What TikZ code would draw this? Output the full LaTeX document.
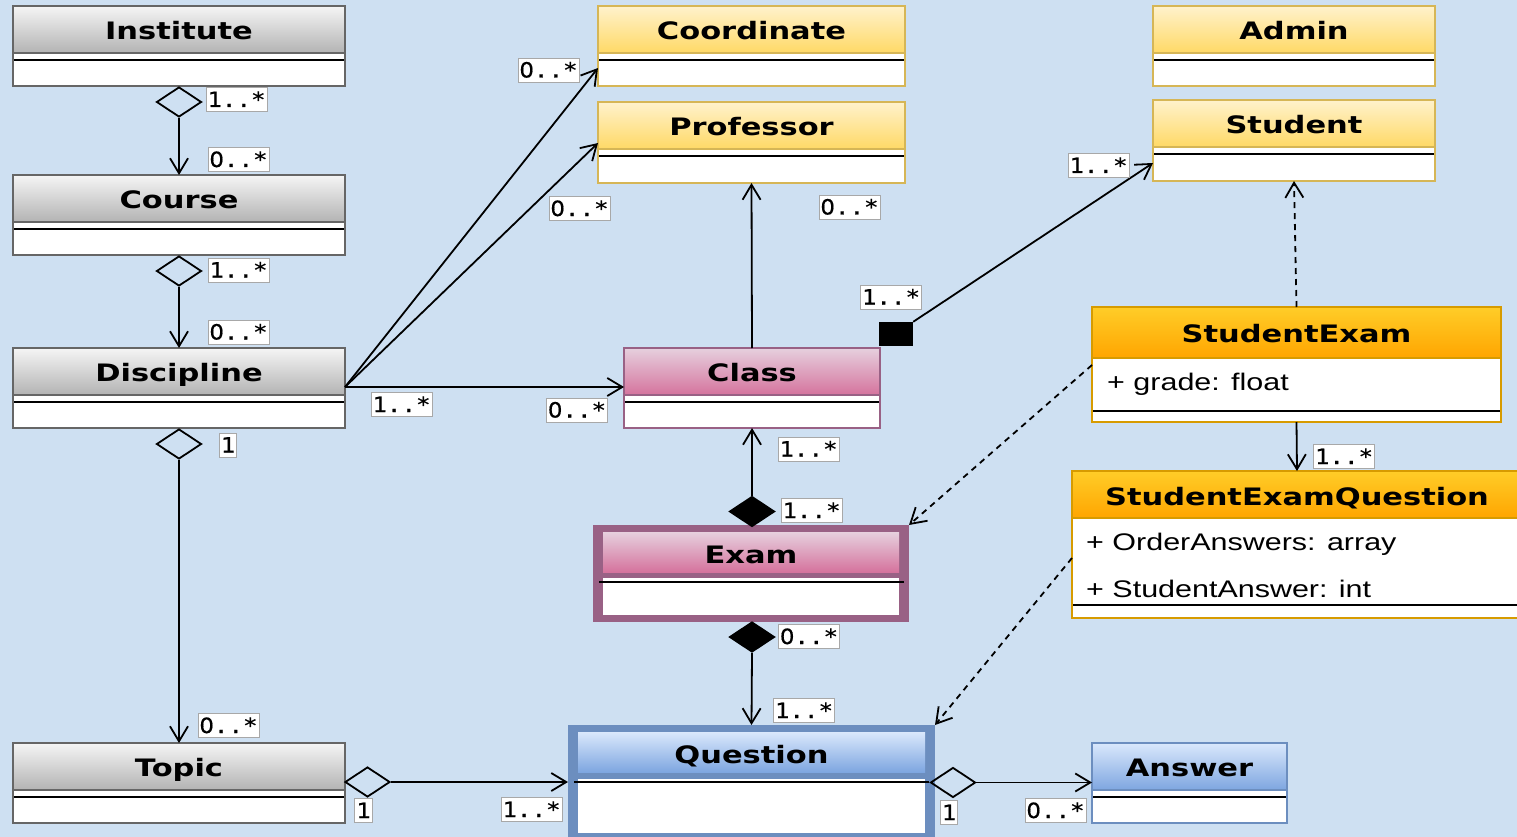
\documentclass[tikz,border=0pt]{standalone}
\usepackage{fontspec}
\usetikzlibrary{arrows.meta,shapes.geometric,calc}
\newfontfamily\hdfont{DejaVu Sans}[FakeStretch=1.27]
\newfontfamily\attrfont{Liberation Sans}[FakeStretch=1.27]
\newfontfamily\lblfont{DejaVu Sans Mono}[FakeStretch=1.15,FakeBold=0.6]
\newfontfamily\lblzerofont{DejaVu Sans}[FakeStretch=1.09,FakeBold=0.6]
\newcommand{\zr}{{\lblzerofont 0}}
\definecolor{bgc}{HTML}{CEE0F2}
\definecolor{gtop}{HTML}{F5F5F5}\definecolor{gbot}{HTML}{B3B3B3}\definecolor{gstr}{HTML}{666666}
\definecolor{ytop}{HTML}{FFF2CC}\definecolor{ybot}{HTML}{FFD966}\definecolor{ystr}{HTML}{D6B656}
\definecolor{ptop}{HTML}{E6D0DE}\definecolor{pbot}{HTML}{D5739D}\definecolor{pstr}{HTML}{996185}
\definecolor{btop}{HTML}{DAE8FC}\definecolor{bbot}{HTML}{7EA6E0}\definecolor{bstr}{HTML}{6C8EBF}
\definecolor{otop}{HTML}{FFCD28}\definecolor{obot}{HTML}{FFA500}\definecolor{ostr}{HTML}{D79B00}
\definecolor{lblstr}{HTML}{A8A8A8}
\tikzset{
  conn/.style={line width=1.8, draw=black, -{Straight Barb[length=15pt,width=18pt]}},
  dep/.style={conn, dash pattern=on 6pt off 5pt},
  lbl/.style={fill=white, draw=lblstr, line width=0.8, inner xsep=1.5, inner ysep=2.5,
    text height=17, text depth=2, font=\lblfont\fontsize{21}{22}\selectfont},
  odia/.style={diamond, draw=black, line width=1.8, minimum width=45, minimum height=30, inner sep=0, aspect=1.5},
  fdia/.style={odia, fill=black},
  hdr/.style={font=\hdfont\bfseries\fontsize{24}{28}\selectfont, anchor=base, inner sep=0},
  attr/.style={font=\attrfont\fontsize{24}{28}\selectfont, anchor=base west, inner sep=0},
  boxnode/.style={rectangle, inner sep=0, outer sep=0, fill=white},
}
\newcommand{\umlclass}[7]{%
  \node[boxnode, minimum width=#4, minimum height=#5] (#1) at (#2+#4/2,#3+#5/2) {};
  \path[top color=#6top, bottom color=#6bot, draw=#6str, line width=1.5] (#1.north west) rectangle ([shift={(0,47)}]#1.north east);
  \draw[line width=1.8] ([shift={(0,54)}]#1.north west) -- ([shift={(0,54)}]#1.north east);
  \draw[#6str, line width=2] (#1.north west) rectangle (#1.south east);
  \node[hdr] (#1t) at ([shift={(0,33.5)}]#1.north) {#7};
}
\begin{document}
\begin{tikzpicture}[x=1pt,y=-1pt]
\useasboundingbox (0,0) rectangle (1517,837);
\fill[bgc] (0,0) rectangle (1517,837);

% gray classes
\umlclass{inst}{13}{6}{332}{80}{g}{Institute}
\umlclass{course}{13}{175}{332}{80}{g}{Course}
\umlclass{disc}{13}{348}{332}{80}{g}{Discipline}
\umlclass{topic}{13}{743}{332}{80}{g}{Topic}
% yellow classes
\umlclass{coord}{598}{6}{307}{80}{y}{Coordinate}
\umlclass{prof}{598}{102}{307}{81}{y}{Professor}
\umlclass{admin}{1153}{6}{282}{80}{y}{Admin}
\umlclass{student}{1153}{100}{282}{81}{y}{Student}
% pink / blue
\umlclass{class}{624}{348}{256}{80}{p}{Class}
\umlclass{answer}{1092}{743}{195}{80}{b}{Answer}

% Exam (thick border)
\node[boxnode, fill=pstr, minimum width=316, minimum height=97] (exam) at (751,573.5) {};
\shade[top color=ptop, bottom color=pbot] (603,532) rectangle (899,572);
\fill[white] (603,578) rectangle (899,615);
\draw[line width=1.8] (599,582) -- (904,582);
\node[hdr] (examt) at (751,563) {Exam};

% Question (thick border)
\node[boxnode, fill=bstr, minimum width=367, minimum height=112] (question) at (751.5,781) {};
\shade[top color=btop, bottom color=bbot] (578,732) rectangle (925,772);
\fill[white] (578,779) rectangle (925,833);
\draw[line width=1.8] (574,782) -- (929,782);
\node[hdr] (questiont) at (751.5,763) {Question};

% StudentExam
\node[boxnode, minimum width=409, minimum height=115] (se) at (1296.5,364.5) {};
\path[top color=otop, bottom color=obot, draw=ostr, line width=1.5] (se.north west) rectangle ([shift={(0,51)}]se.north east);
\node[attr] (sea) at (1107,390) {+ grade: float};
\draw[line width=1.8] (1092,411) -- (1501,411);
\draw[ostr, line width=2] (se.north west) rectangle (se.south east);
\node[hdr] (set) at ([shift={(0,35)}]se.north) {StudentExam};

% StudentExamQuestion
\node[boxnode, minimum width=450, minimum height=147] (seq) at (1297,544.5) {};
\path[top color=otop, bottom color=obot, draw=ostr, line width=1.5] (seq.north west) rectangle ([shift={(0,47)}]seq.north east);
\node[attr] (seqa) at (1086,550) {+ OrderAnswers: array};
\node[attr] (seqb) at (1086,597) {+ StudentAnswer: int};
\draw[line width=1.8] (1072,605) -- (1522,605);
\draw[ostr, line width=2] (seq.north west) rectangle (seq.south east);
\node[hdr] (seqt) at ([shift={(0,34)}]seq.north) {StudentExamQuestion};

% diamonds and square
\node[odia] (dI) at (179,102) {};
\node[odia] (dC) at (179,271) {};
\node[odia] (dD) at (179,444) {};
\node[odia] (dT) at (367.5,782) {};
\node[odia] (dQ) at (953,782.5) {};
\node[fdia] (dE1) at (752,511.5) {};
\node[fdia] (dE2) at (752,637) {};
\node[rectangle, fill=black, minimum width=34, minimum height=24, inner sep=0] (sq) at (896,334) {};

% connectors
\draw[conn] (dI.south) -- (course.north);
\draw[conn] (dC.south) -- (disc.north);
\draw[conn] (dD.south) -- (topic.north);
\coordinate (dR) at ([shift={(0,39)}]disc.north east);
\draw[conn] (dR) -- ([shift={(0,62)}]coord.north west);
\draw[conn] (dR) -- ([shift={(0,41)}]prof.north west);
\draw[conn] (dR) -- (dR -| class.west);
\draw[conn] (class.north) -- (prof.south);
\draw[conn] (sq.north east) -- ([shift={(0,63)}]student.north west);
\draw[dep] (se.north) -- (student.south);
\draw[dep] ([shift={(0,58)}]se.north west) -- (exam.north east);
\draw[conn] (se.south) -- (seq.north);
\draw[dep] ([shift={(0,87)}]seq.north west) -- (question.north east);
\draw[conn] (dE1.north) -- (class.south);
\draw[conn] (dE2.south) -- (question.north);
\draw[conn] (dT.east) -- (dT.east -| question.west);
\draw[conn] (dQ.east) -- (dQ.east -| answer.west);

% multiplicity labels
\node[lbl] (l1) at (236.5,99.5) {1..*};
\node[lbl] (l2) at (238.5,159.5) {\zr..*};
\node[lbl] (l3) at (238.5,270) {1..*};
\node[lbl] (l4) at (238.5,332) {\zr..*};
\node[lbl] (l5) at (228,445) {1};
\node[lbl] (l6) at (228.5,725.5) {\zr..*};
\node[lbl] (l7) at (363.5,810.5) {1};
\node[lbl] (l8) at (531.5,809.5) {1..*};
\node[lbl] (l9) at (548.5,70) {\zr..*};
\node[lbl] (l10) at (579.5,208.5) {\zr..*};
\node[lbl] (l11) at (849.5,207) {\zr..*};
\node[lbl] (l12) at (1098.5,165.5) {1..*};
\node[lbl] (l13) at (891,297) {1..*};
\node[lbl] (l14) at (401.5,404.5) {1..*};
\node[lbl] (l15) at (577,410) {\zr..*};
\node[lbl] (l16) at (808.5,449) {1..*};
\node[lbl] (l17) at (811.5,510.5) {1..*};
\node[lbl] (l18) at (809,636.5) {\zr..*};
\node[lbl] (l19) at (804,710.5) {1..*};
\node[lbl] (l20) at (949,812.5) {1};
\node[lbl] (l21) at (1055.5,810.5) {\zr..*};
\node[lbl] (l22) at (1344,456.5) {1..*};
\end{tikzpicture}
\end{document}
